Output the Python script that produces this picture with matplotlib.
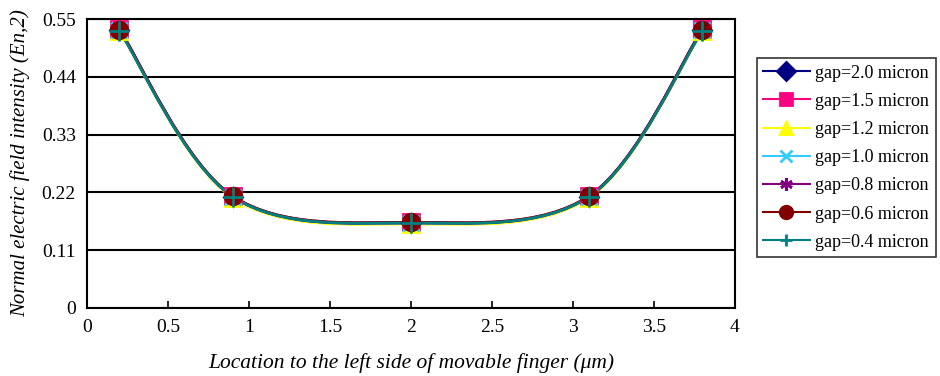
import numpy as np
import matplotlib.pyplot as plt
from matplotlib.path import Path
from matplotlib.patches import PathPatch
from matplotlib.lines import Line2D

plt.rcParams['font.family'] = ['Liberation Serif', 'DejaVu Serif']

location = [0.2, 0.9, 2.0, 3.1, 3.8]
labels = ['gap=2.0 micron', 'gap=1.5 micron', 'gap=1.2 micron', 'gap=1.0 micron',
          'gap=0.8 micron', 'gap=0.6 micron', 'gap=0.4 micron']
gap_20 = [0.530, 0.212, 0.162, 0.212, 0.530]
gap_15 = [0.531, 0.213, 0.163, 0.213, 0.531]
gap_12 = [0.527, 0.210, 0.160, 0.210, 0.527]
gap_10 = [0.529, 0.212, 0.162, 0.212, 0.529]
gap_08 = [0.529, 0.212, 0.162, 0.212, 0.529]
gap_06 = [0.530, 0.213, 0.163, 0.213, 0.530]
gap_04 = [0.528, 0.212, 0.162, 0.212, 0.528]
series = [gap_20, gap_15, gap_12, gap_10, gap_08, gap_06, gap_04]

colors = ['#000080', '#ff0080', '#ffff00', '#33ccff', '#800080', '#800000', '#008080']
markers = ['D', 's', '^', 'x', (6, 2, 0), 'o', '+']
msizes = [9, 11, 11, 11, 12, 12, 14]


def smooth_path(x, y):
    # catmull-rom segments turned into cubic bezier pieces
    pts = np.column_stack([x, y])
    ext = np.vstack([pts[0], pts, pts[-1]])
    verts = [pts[0]]
    codes = [Path.MOVETO]
    for i in range(1, len(ext) - 2):
        p0, p1, p2, p3 = ext[i - 1], ext[i], ext[i + 1], ext[i + 2]
        verts += [p1 + (p2 - p0) / 6, p2 - (p3 - p1) / 6, p2]
        codes += [Path.CURVE4] * 3
    return Path(verts, codes)


fig = plt.figure(figsize=(9.4, 3.76), dpi=100)
ax = fig.add_axes([0.0926, 0.181, 0.689, 0.768])

for i, vals in enumerate(series):
    ax.add_patch(PathPatch(smooth_path(location, vals), facecolor='none',
                           edgecolor=colors[i], lw=2, zorder=2 + i * 0.01))
for i, vals in enumerate(series):
    ax.plot(location, vals, ls='none', marker=markers[i], ms=msizes[i],
            color=colors[i], mec=colors[i], mew=2, zorder=3 + i, clip_on=False)

ax.set_xlim(0, 4)
ax.set_ylim(0, 0.55)
ax.set_xticks(np.arange(0, 4.01, 0.5))
ax.set_xticklabels(['0', '0.5', '1', '1.5', '2', '2.5', '3', '3.5', '4'])
ax.set_yticks([0, 0.11, 0.22, 0.33, 0.44, 0.55])
ax.set_yticklabels(['0', '0.11', '0.22', '0.33', '0.44', '0.55'])
ax.tick_params(axis='x', direction='in', length=5, width=1.2, labelsize=14, pad=8)
ax.tick_params(axis='y', length=0, labelsize=14, pad=8)
ax.yaxis.grid(True, color='black', lw=1.5)
ax.set_axisbelow(True)
for s in ax.spines.values():
    s.set_linewidth(1.5)

ax.set_xlabel('Location to the left side of movable finger (\u03bcm)', fontsize=15.5,
              style='italic', labelpad=12)
ax.set_ylabel('Normal electric field intensity (En,2)', fontsize=15, style='italic',
              labelpad=8)

handles = [Line2D([], [], color=colors[i], marker=markers[i], ms=9, mew=2, lw=1.5)
           for i in range(len(series))]
leg = fig.legend(handles, labels, loc='upper left', bbox_to_anchor=(0.805, 0.845),
                 fontsize=13, frameon=True, fancybox=False, edgecolor='black',
                 handlelength=2.6, handletextpad=0.3, borderpad=0.35, labelspacing=0.62,
                 borderaxespad=0)
leg.get_frame().set_linewidth(1.2)

fig.savefig('out.png', dpi=100)
